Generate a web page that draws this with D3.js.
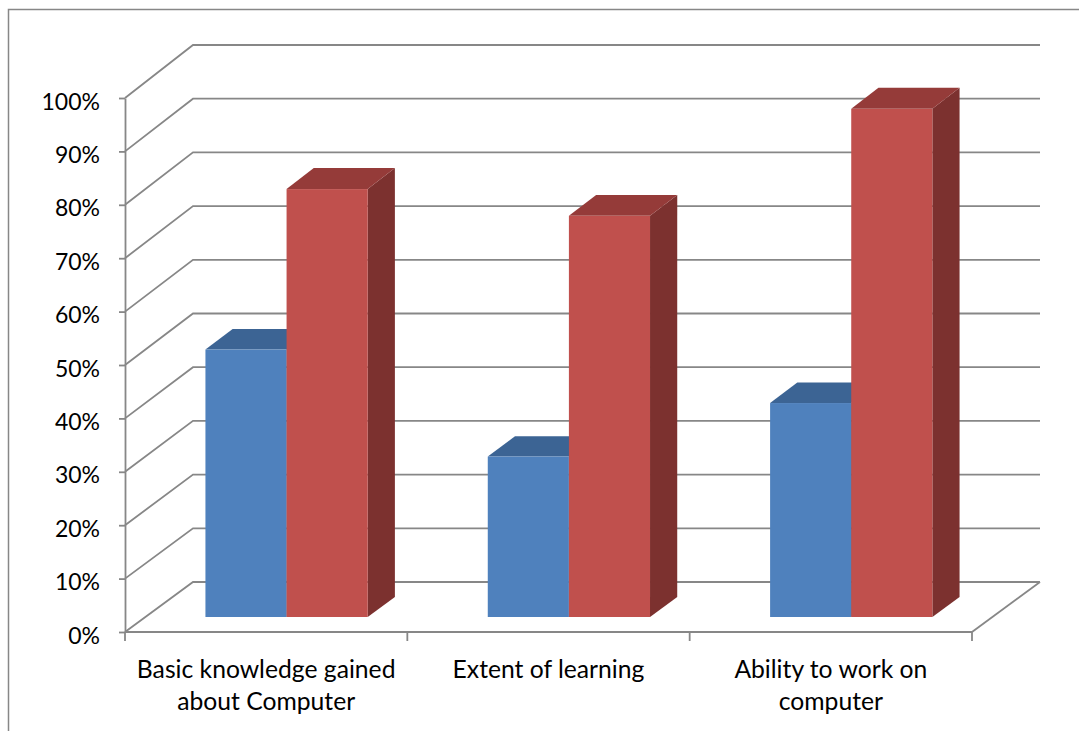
<!DOCTYPE html>
<html>
<head>
<meta charset="utf-8">
<script src="https://cdn.jsdelivr.net/npm/d3@7"></script>
<style>
  html, body { margin: 0; padding: 0; background: #ffffff; }
  svg { display: block; }
  text { font-family: Lato, "Open Sans", sans-serif; fill: #000; }
</style>
</head>
<body>
<svg id="chart" width="1079" height="731"></svg>
<script>
// ---- data ----
const categories = ["Basic knowledge gained about Computer", "Extent of learning", "Ability to work on computer"];
const categoryLines = [["Basic knowledge gained", "about Computer"], ["Extent of learning"], ["Ability to work on", "computer"]];
const seriesNames = ["Series 1", "Series 2"];
const series1Values = [50, 30, 40];
const series2Values = [80, 75, 95];
const yTicks = [0, 10, 20, 30, 40, 50, 60, 70, 80, 90, 100];

// ---- layout ----
const svg = d3.select("#chart");
const W = 1079, H = 731;
const frontLeft = 125, frontRight = 972;
const depthDX = 68;            // horizontal shift from front to back wall
const backRight = 1040;
const barT0 = 0.3, barT1 = 0.7; // bar depth span (0 = front, 1 = back)

const yFront = d3.scaleLinear().domain([0, 100]).range([632, 98]);
const yBack  = d3.scaleLinear().domain([0, 100]).range([582, 45]);
const yAt = (v, t) => yFront(v) * (1 - t) + yBack(v) * t;
const xOff = t => depthDX * t;

const x0 = d3.scaleBand().domain(categories).range([frontLeft, frontRight]).padding(0);
const x1 = d3.scaleBand().domain(seriesNames).range([0, x0.bandwidth()]).paddingInner(0).paddingOuter(0.74);

const colors = {
  "Series 1": { front: "#4F81BD", top: "#3C6494", side: "#2F5078" },
  "Series 2": { front: "#C0504D", top: "#953B39", side: "#7C312F" }
};
const gridColor = "#878787";

// outer border
svg.append("rect")
  .attr("x", 8.5).attr("y", 9.5)
  .attr("width", W + 10).attr("height", H + 10)
  .attr("fill", "none").attr("stroke", gridColor).attr("stroke-width", 1.5);

// gridlines: side wall diagonal + back wall horizontal
const grid = svg.append("g");
yTicks.forEach(v => {
  grid.append("path")
    .attr("d", `M${frontLeft},${yFront(v)}L${frontLeft + depthDX},${yBack(v)}L${backRight},${yBack(v)}`)
    .attr("fill", "none").attr("stroke", gridColor).attr("stroke-width", 1.8);
});
// floor right diagonal
grid.append("path")
  .attr("d", `M${frontRight},${yFront(0)}L${backRight},${yBack(0)}`)
  .attr("fill", "none").attr("stroke", gridColor).attr("stroke-width", 1.8);

// y axis (front plane)
const yAxis = svg.append("g")
  .attr("transform", `translate(${frontLeft},0)`)
  .call(d3.axisLeft(yFront).tickValues(yTicks).tickSize(6).tickSizeOuter(0).tickPadding(19).tickFormat(d => d + "%"));
yAxis.select(".domain").attr("stroke", gridColor).attr("stroke-width", 1.8);
yAxis.selectAll(".tick line").attr("stroke", gridColor).attr("stroke-width", 1.8);
yAxis.selectAll(".tick text")
  .attr("font-family", "Lato, 'Open Sans', sans-serif")
  .attr("font-size", 23).attr("fill", "#000").attr("dy", "0.48em");

// x axis (front floor edge)
const xAxisG = svg.append("g");
xAxisG.append("line")
  .attr("x1", frontLeft).attr("x2", frontRight)
  .attr("y1", yFront(0)).attr("y2", yFront(0))
  .attr("stroke", gridColor).attr("stroke-width", 1.8);
const boundaries = categories.map(c => x0(c)).concat([x0(categories[categories.length - 1]) + x0.bandwidth()]);
xAxisG.selectAll("line.tick").data(boundaries).join("line")
  .attr("class", "tick")
  .attr("x1", d => d).attr("x2", d => d)
  .attr("y1", yFront(0)).attr("y2", yFront(0) + 9)
  .attr("stroke", gridColor).attr("stroke-width", 1.8);

// category labels
categories.forEach((c, i) => {
  const cx = x0(c) + x0.bandwidth() / 2;
  const t = xAxisG.append("text")
    .attr("text-anchor", "middle")
    .attr("font-size", 24.7);
  categoryLines[i].forEach((line, k) => {
    t.append("tspan").attr("x", cx).attr("y", 678 + k * 32).text(line);
  });
});

// bars (3D boxes)
const bars = svg.append("g");
const seriesValues = [series1Values, series2Values];
categories.forEach((c, i) => {
  seriesNames.forEach((s, j) => {
    const v = seriesValues[j][i];
    const xL = x0(c) + x1(s);
    const xR = xL + x1.bandwidth();
    const o0 = xOff(barT0), o1 = xOff(barT1);
    const yT0 = yAt(v, barT0), yT1 = yAt(v, barT1);
    const yB0 = yAt(0, barT0), yB1 = yAt(0, barT1);
    const col = colors[s];
    const g = bars.append("g");
    // side face
    g.append("path")
      .attr("d", `M${xR + o0},${yT0}L${xR + o1},${yT1}L${xR + o1},${yB1}L${xR + o0},${yB0}Z`)
      .attr("fill", col.side);
    // top face
    g.append("path")
      .attr("d", `M${xL + o0},${yT0}L${xR + o0},${yT0}L${xR + o1},${yT1}L${xL + o1},${yT1}Z`)
      .attr("fill", col.top);
    // front face
    g.append("rect")
      .attr("x", xL + o0).attr("y", yT0)
      .attr("width", xR - xL).attr("height", yB0 - yT0)
      .attr("fill", col.front);
  });
});
</script>
</body>
</html>
